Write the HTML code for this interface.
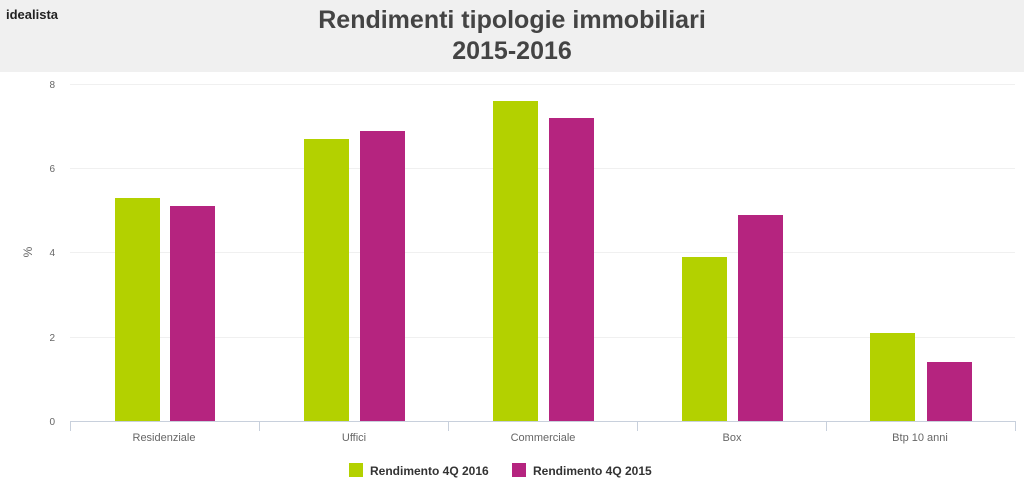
<!DOCTYPE html>
<html><head><style>
body{margin:0;width:1024px;height:491px;background:#fff;font-family:"Liberation Sans",sans-serif;overflow:hidden;position:relative}
.hdr{position:absolute;left:0;top:0;width:1024px;height:72px;background:#f0f0f0}
.logo{position:absolute;left:6px;top:7px;font-family:"Liberation Sans",sans-serif;font-size:13px;font-weight:bold;color:#222}
.t{position:absolute;left:0;width:1024px;text-align:center;font-size:25px;font-weight:bold;color:#444}
</style></head><body>
<div class="hdr"></div>
<div class="logo">idealista</div>
<div class="t" style="top:6px">Rendimenti tipologie immobiliari</div>
<div class="t" style="top:37px">2015-2016</div>
<svg width="1024" height="491" style="position:absolute;left:0;top:0" font-family="Liberation Sans, sans-serif">
<g stroke="#f0f0f0" stroke-width="1">
<line x1="70" x2="1015" y1="84.5" y2="84.5"/><line x1="70" x2="1015" y1="168.5" y2="168.5"/>
<line x1="70" x2="1015" y1="252.5" y2="252.5"/><line x1="70" x2="1015" y1="337.5" y2="337.5"/>
</g>
<g font-size="10" fill="#666" text-anchor="end">
<text x="55" y="88">8</text><text x="55" y="172">6</text><text x="55" y="256">4</text><text x="55" y="341">2</text><text x="55" y="425">0</text>
</g>
<text x="32" y="252" font-size="12" fill="#666" transform="rotate(-90 32 252)" text-anchor="middle">%</text>
<g fill="#b3d100">
<rect x="115" y="198" width="45" height="223"/><rect x="304" y="139" width="45" height="282"/>
<rect x="493" y="101" width="45" height="320"/><rect x="682" y="257" width="45" height="164"/>
<rect x="870" y="333" width="45" height="88"/>
</g>
<g fill="#b5247f">
<rect x="170" y="206" width="45" height="215"/><rect x="360" y="131" width="45" height="290"/>
<rect x="549" y="118" width="45" height="303"/><rect x="738" y="215" width="45" height="206"/>
<rect x="927" y="362" width="45" height="59"/>
</g>
<g stroke="#c8d0dc" stroke-width="1">
<line x1="70" x2="1015" y1="421.5" y2="421.5"/>
<line x1="70.5" x2="70.5" y1="421" y2="431"/><line x1="259.5" x2="259.5" y1="421" y2="431"/>
<line x1="448.5" x2="448.5" y1="421" y2="431"/><line x1="637.5" x2="637.5" y1="421" y2="431"/>
<line x1="826.5" x2="826.5" y1="421" y2="431"/><line x1="1015.5" x2="1015.5" y1="421" y2="431"/>
</g>
<g font-size="11" fill="#666" text-anchor="middle">
<text x="164" y="441">Residenziale</text><text x="354" y="441">Uffici</text><text x="543" y="441">Commerciale</text>
<text x="732" y="441">Box</text><text x="920" y="441">Btp 10 anni</text>
</g>
<rect x="349" y="463" width="14" height="14" fill="#b3d100"/>
<text x="370" y="475" font-size="12" font-weight="bold" fill="#333">Rendimento 4Q 2016</text>
<rect x="512" y="463" width="14" height="14" fill="#b5247f"/>
<text x="533" y="475" font-size="12" font-weight="bold" fill="#333">Rendimento 4Q 2015</text>
</svg>
</body></html>
